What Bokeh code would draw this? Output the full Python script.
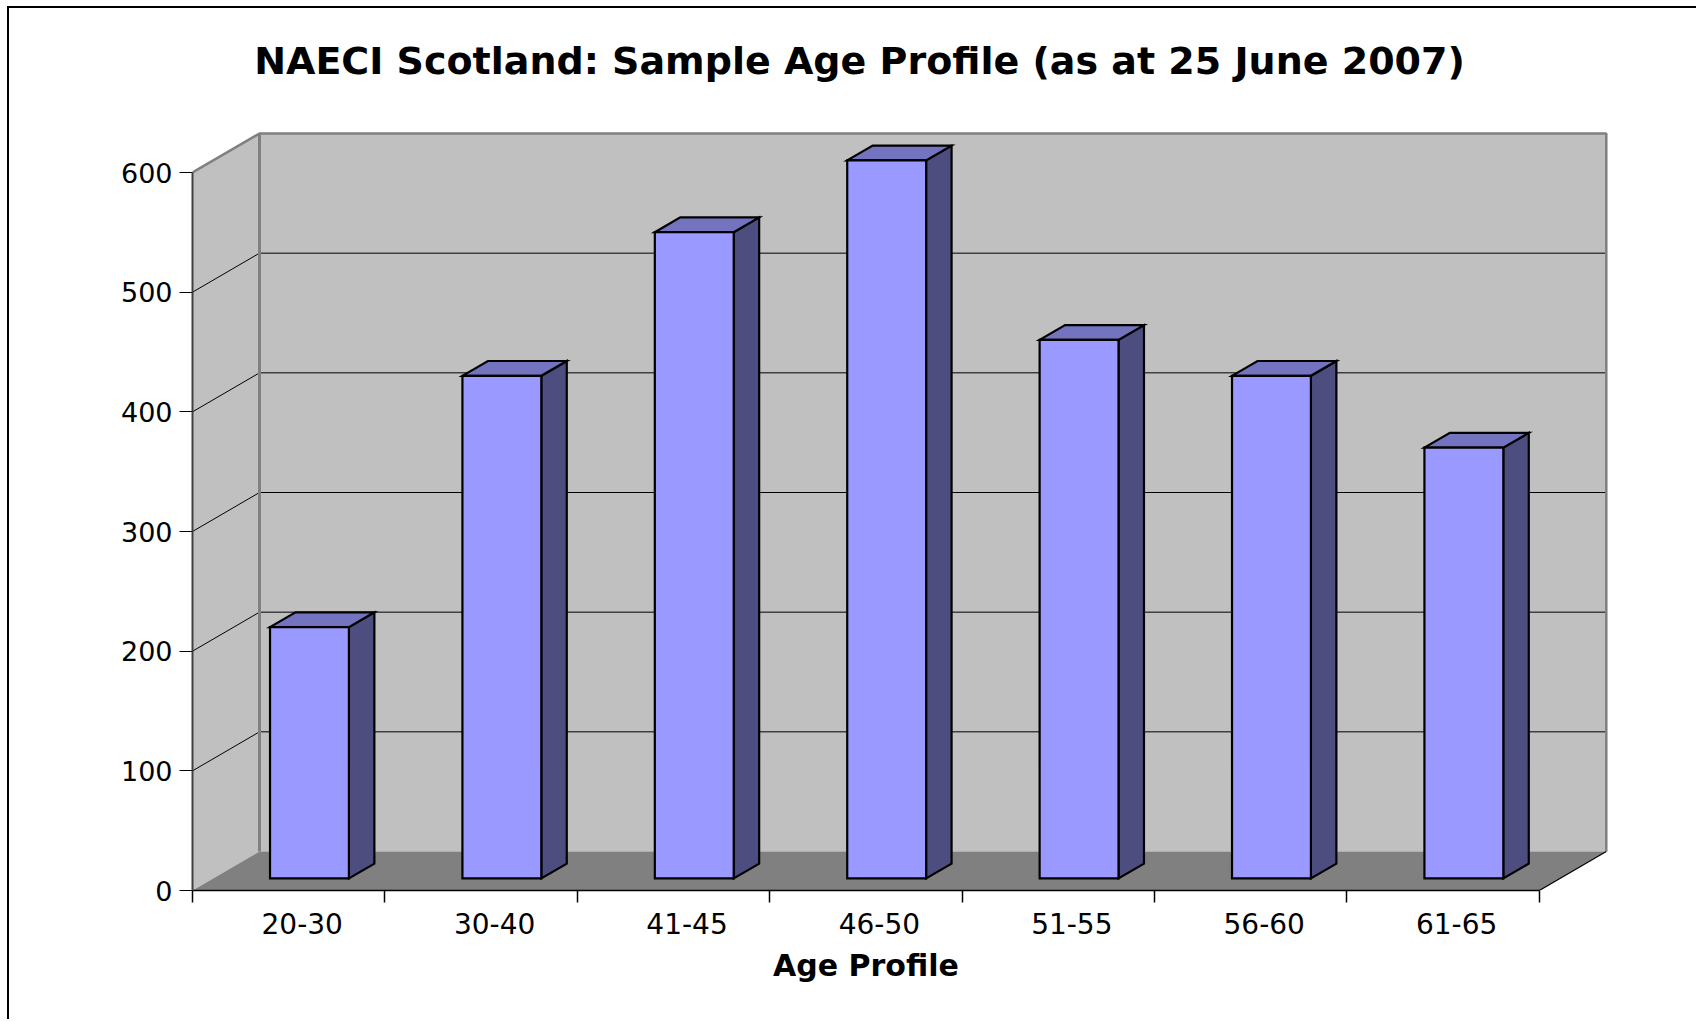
from bokeh.plotting import figure
from bokeh.models import Range1d, FixedTicker, LinearAxis, ColumnDataSource, Title
from bokeh.embed import file_html
from bokeh.resources import INLINE
from bokeh.core.properties import value

# ---- data ----
categories = ["20-30", "30-40", "41-45", "46-50", "51-55", "56-60", "61-65"]
counts = [210, 420, 540, 600, 450, 420, 360]
y_ticks = [0, 100, 200, 300, 400, 500, 600]
title_text = "NAECI Scotland: Sample Age Profile (as at 25 June 2007)"
x_title = "Age Profile"

# ---- layout constants ----
OX, OY = 9, 8                # page offset of the figure
W, H = 1698 - OX, 1021 - OY
FL = 192 - OX                # frame left border in px
FB = H - (890 - OY)          # frame bottom border in px
SLOT_PX = 192.4              # px per category
VAL_PX = 718.0 / 600.0       # px per value unit
frame_w = W - FL
frame_h = H - FB
n = len(categories)
ymax = y_ticks[-1]
DX = 67.0 / SLOT_PX          # depth offset in x units
DY = 39.0 / VAL_PX           # depth offset in value units
F0, BD, BW = 0.31, 0.38, 0.41

p = figure(width=W, height=H, output_backend="svg", toolbar_location=None,
           x_range=Range1d(0, frame_w / SLOT_PX), y_range=Range1d(0, frame_h / VAL_PX),
           min_border_left=FL, min_border_right=0, min_border_top=0, min_border_bottom=FB,
           x_axis_type=None, y_axis_type=None)
p.xgrid.visible = False
p.ygrid.visible = False
p.outline_line_color = None
p.background_fill_color = "white"
p.border_fill_color = "white"
p.styles = {"margin-left": f"{OX}px", "margin-top": f"{OY}px",
            "box-shadow": "-2px -2px 0 0 #000000"}

WALL = "#c0c0c0"
FLOOR = "#808080"
EDGE = "#808080"

# side wall, back wall, floor
p.patch([0, 0, DX, DX], [0, ymax, ymax + DY, DY], fill_color=WALL, line_color=None)
p.patch([DX, DX, n + DX, n + DX], [DY, ymax + DY, ymax + DY, DY], fill_color=WALL, line_color=None)
p.patch([0, n, n + DX, DX], [0, 0, DY, DY], fill_color=FLOOR, line_color=None)

# gridlines
gx, gy = [], []
for t in y_ticks[1:-1]:
    gx.append([0, DX, n + DX])
    gy.append([t, t + DY, t + DY])
p.multi_line(gx, gy, line_color="black", line_width=1)

# wall edges
p.line([0, DX, n + DX, n + DX], [ymax, ymax + DY, ymax + DY, DY], line_color=EDGE, line_width=2.5)
p.line([DX, DX], [DY, ymax + DY], line_color=EDGE, line_width=3)
p.line([n, n + DX], [0, DY], line_color="black", line_width=1.2)

# bars
xl = [i + 0.5 - BW / 2 + F0 * DX for i in range(n)]
xr = [x + BW for x in xl]
y0 = F0 * DY
src = ColumnDataSource(dict(left=xl, right=xr, bottom=[y0] * n,
                            top=[c + y0 for c in counts], cat=categories))
sx, sy, tx, ty = [], [], [], []
for a, b, c in zip(xl, xr, counts):
    sx.append([b, b, b + BD * DX, b + BD * DX])
    sy.append([y0, c + y0, c + y0 + BD * DY, y0 + BD * DY])
    tx.append([a, b, b + BD * DX, a + BD * DX])
    ty.append([c + y0, c + y0, c + y0 + BD * DY, c + y0 + BD * DY])
p.patches(sx, sy, fill_color="#4d4d80", line_color="black", line_width=2.2, line_join="miter")
p.patches(tx, ty, fill_color="#7373bf", line_color="black", line_width=2.2, line_join="miter")
p.quad(left="left", right="right", bottom="bottom", top="top", source=src,
       fill_color="#9999ff", line_color="black", line_width=2.2, line_join="miter")

# title
p.text(x=[(859 - OX - FL) / SLOT_PX], y=[(frame_h - (60 - OY)) / VAL_PX], text=[title_text],
       text_font=value("DejaVu Sans"), text_font_style="bold", text_font_size="38px",
       text_align="center", text_baseline="middle", text_color="black")

# y axis
yaxis = LinearAxis(ticker=FixedTicker(ticks=y_ticks), bounds=(0, ymax))
yaxis.axis_line_color = "#404040"
yaxis.axis_line_width = 2
yaxis.major_tick_out = 13
yaxis.major_tick_in = 0
yaxis.major_tick_line_color = "black"
yaxis.minor_tick_line_color = None
yaxis.major_label_standoff = 7
yaxis.major_label_text_font = "DejaVu Sans"
yaxis.major_label_text_font_size = "27px"
yaxis.major_label_text_color = "black"
p.add_layout(yaxis, "left")

# x axis
LAB = 0.5703125
lab_ticks = [i + LAB for i in range(n)]
xaxis = LinearAxis(ticker=FixedTicker(ticks=lab_ticks, minor_ticks=list(range(n + 1))),
                   bounds=(0, n))
xaxis.major_label_overrides = {t: c for t, c in zip(lab_ticks, categories)}
xaxis.axis_line_color = "black"
xaxis.axis_line_width = 1.5
xaxis.major_tick_out = 0
xaxis.major_tick_in = 0
xaxis.major_tick_line_color = None
xaxis.minor_tick_out = 12
xaxis.minor_tick_in = 0
xaxis.minor_tick_line_color = "black"
xaxis.minor_tick_line_width = 1.5
xaxis.major_label_standoff = 10
xaxis.major_label_text_font = "DejaVu Sans"
xaxis.major_label_text_font_size = "28px"
xaxis.major_label_text_color = "black"
p.add_layout(xaxis, "below")

# x axis title, centred under the category axis (left-aligned title shifted by offset)
XT_FS = 30
xt_width = 6.228 * XT_FS
xt_offset = (866 - OX - FL) - xt_width / 2
p.add_layout(Title(text=x_title, align="left", offset=xt_offset, standoff=18,
                   text_font="DejaVu Sans", text_font_style="bold",
                   text_font_size=f"{XT_FS}px", text_color="black"), "below")

open("out.html", "w").write(file_html(p, INLINE))
